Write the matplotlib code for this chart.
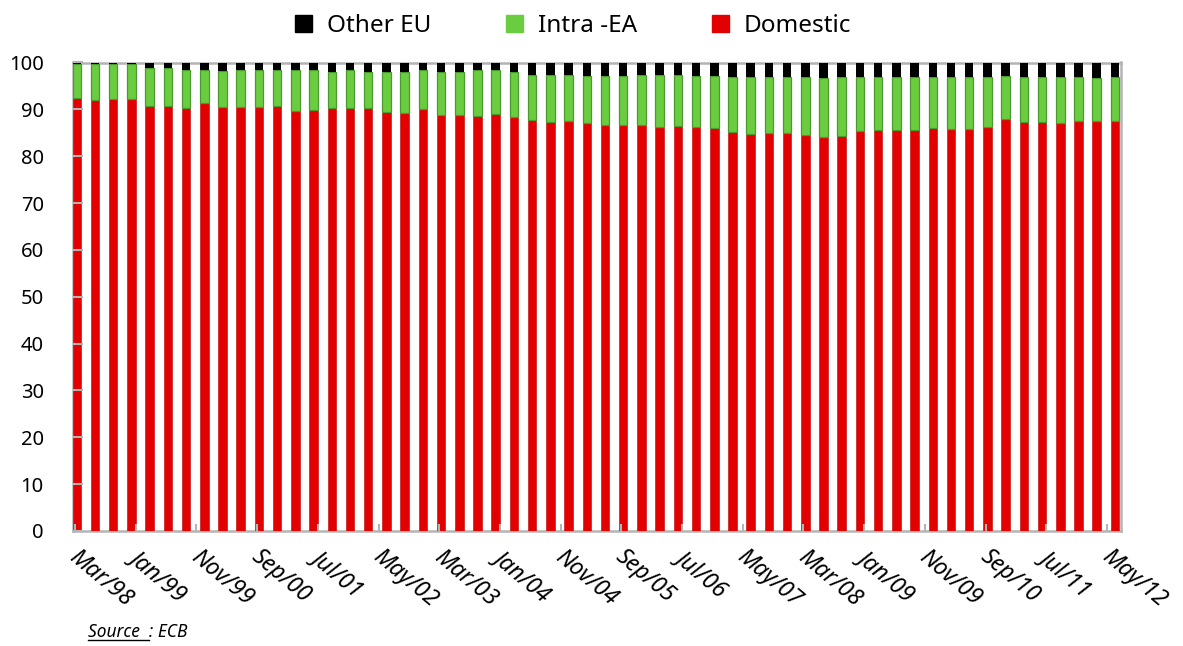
import matplotlib.pyplot as plt
import matplotlib.transforms as mtransforms
from matplotlib.lines import Line2D
from matplotlib.patches import Patch
import numpy as np

plt.rcParams['font.family'] = ['Noto Sans', 'DejaVu Sans']

# quarterly shares (%), Mar/98 .. Jun/12
domestic = [92.5, 92.1, 92.3, 92.3, 90.7, 90.7, 90.3, 91.4, 90.6, 90.6,
            90.6, 90.8, 89.6, 89.9, 90.2, 90.2, 90.2, 89.5, 89.3, 90.0,
            88.8, 88.8, 88.6, 89.1, 88.3, 87.7, 87.4, 87.6, 87.0, 86.7,
            86.6, 86.6, 86.3, 86.4, 86.3, 86.1, 85.2, 84.7, 85.0, 84.9,
            84.5, 84.0, 84.3, 85.4, 85.6, 85.6, 85.6, 86.1, 85.8, 85.8,
            86.3, 87.9, 87.2, 87.2, 87.0, 87.5, 87.6, 87.6]
intra_ea = [7.1, 7.5, 7.3, 7.3, 8.1, 8.1, 8.1, 7.0, 7.6, 7.8,
            7.8, 7.7, 8.7, 8.4, 7.8, 8.1, 7.8, 8.5, 8.7, 8.4,
            9.2, 9.2, 9.7, 9.2, 9.7, 9.6, 9.9, 9.7, 10.1, 10.4,
            10.5, 10.7, 11.0, 10.9, 10.8, 11.0, 11.8, 12.3, 12.0, 11.9,
            12.3, 12.6, 12.5, 11.6, 11.4, 11.4, 11.4, 10.9, 11.2, 11.2,
            10.7, 9.2, 9.6, 9.6, 9.8, 9.3, 9.0, 9.2]
other_eu = [0.4, 0.4, 0.4, 0.4, 1.2, 1.2, 1.6, 1.6, 1.8, 1.6,
            1.6, 1.5, 1.7, 1.7, 2.0, 1.7, 2.0, 2.0, 2.0, 1.6,
            2.0, 2.0, 1.7, 1.7, 2.0, 2.7, 2.7, 2.7, 2.9, 2.9,
            2.9, 2.7, 2.7, 2.7, 2.9, 2.9, 3.0, 3.0, 3.0, 3.2,
            3.2, 3.4, 3.2, 3.0, 3.0, 3.0, 3.0, 3.0, 3.0, 3.0,
            3.0, 2.9, 3.2, 3.2, 3.2, 3.2, 3.4, 3.2]

tick_labels = ["Mar/98", "Jan/99", "Nov/99", "Sep/00", "Jul/01", "May/02",
               "Mar/03", "Jan/04", "Nov/04", "Sep/05", "Jul/06", "May/07",
               "Mar/08", "Jan/09", "Nov/09", "Sep/10", "Jul/11", "May/12"]

RED = "#e20000"
GREEN = "#6acd40"
BLACK = "#000000"
GREY = "#b4b4b4"

# months since Mar/98, one bar per quarter
x = np.arange(len(domestic)) * 3 + 0.3
dom = np.array(domestic)
intra = np.array(intra_ea)
oth = np.array(other_eu)

fig = plt.figure(figsize=(11.83, 6.46), dpi=100)
ax = fig.add_axes([73 / 1183, 115 / 646, 1048 / 1183, 468.5 / 646])

w = 1.4
ax.bar(x, dom, width=w, color=RED, edgecolor="#c00000", linewidth=0.4)
ax.bar(x, intra, bottom=dom, width=w, color=GREEN, edgecolor="#4b9a30", linewidth=0.9)
ax.bar(x, oth, bottom=dom + intra, width=w, color=BLACK, linewidth=0)

ax.set_xlim(-0.33, 172.3)
ax.set_ylim(0, 100)
ax.set_yticks(range(0, 101, 10))
ax.set_xticks(np.arange(len(tick_labels)) * 10)
ax.set_xticklabels(tick_labels)

for s in ax.spines.values():
    s.set_color(GREY)
    s.set_linewidth(1.8)
    s.set_zorder(0.5)

ax.tick_params(axis="y", direction="in", length=7, width=1.5, color=GREY,
               labelsize=14.5, pad=21)
ax.tick_params(axis="x", direction="in", length=5, width=1.5, color=GREY,
               labelsize=16.5, pad=10)

shift = mtransforms.ScaledTranslation(5 / 100, 0, fig.dpi_scale_trans)
for lab in ax.get_xticklabels():
    lab.set_rotation(-40)
    lab.set_rotation_mode("anchor")
    lab.set_ha("left")
    lab.set_va("top")
    lab.set_style("italic")
    lab.set_transform(lab.get_transform() + shift)

handles = [Patch(color=BLACK), Patch(color=GREEN), Patch(color=RED)]
fig.legend(handles, ["Other EU", "Intra -EA", "Domestic"], loc="upper center",
           bbox_to_anchor=(0.4845, 1.012), ncol=3, frameon=False, fontsize=17.5,
           handlelength=0.7, handleheight=0.7, handletextpad=0.6,
           columnspacing=3.1)

src = fig.text(88 / 1183, 1 - 632 / 646, "Source  : ECB", fontsize=12.5,
               style="italic", va="center", ha="left")
fig.canvas.draw()
r = fig.canvas.get_renderer()
bb = src.get_window_extent(r)
word = fig.text(0, 0, "Source  ", fontsize=12.5, style="italic")
wb = word.get_window_extent(r)
word.remove()
ul_y = (bb.y0 + 1) / fig.bbox.height
fig.add_artist(Line2D([bb.x0 / fig.bbox.width, (bb.x0 + wb.width) / fig.bbox.width],
                      [ul_y, ul_y], color="black", linewidth=1.0,
                      transform=fig.transFigure))

fig.savefig("out.png", dpi=100)
